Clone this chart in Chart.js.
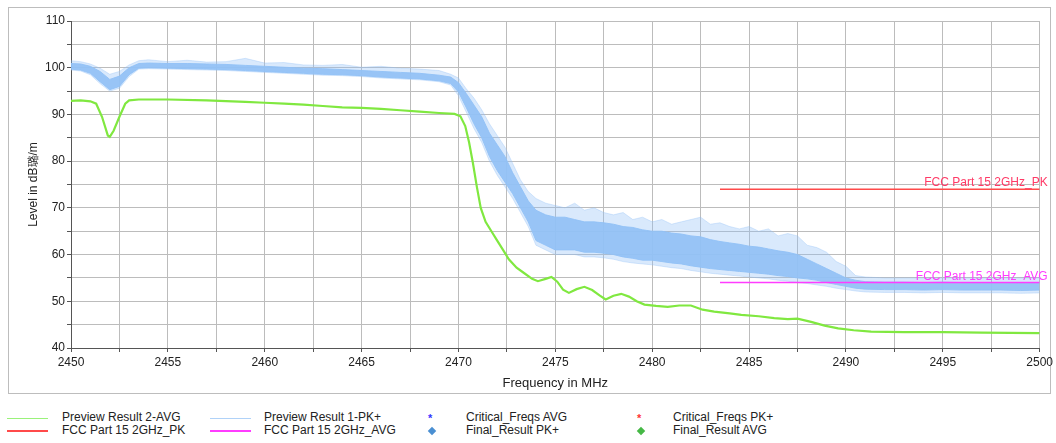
<!DOCTYPE html>
<html>
<head>
<meta charset="utf-8">
<script src="https://cdn.jsdelivr.net/npm/chart.js@4.4.1/dist/chart.umd.min.js"></script>
<style>
  body { margin: 0; background: #fff; width: 1056px; height: 443px; overflow: hidden; position: relative;
         font-family: 'Liberation Sans', Arial, sans-serif; }
  #frame { position: absolute; left: 8px; top: 7px; width: 1041px; height: 385px; border: 1px solid #bdbdbd; }
  #chart { position: absolute; left: 0; top: 0; }
  .lg { position: absolute; font-size: 12px; color: #222; line-height: 13px; white-space: nowrap; }
  .sym { position: absolute; }
</style>
</head>
<body>
<div id="frame"></div>
<canvas id="chart" width="1056" height="400"></canvas>
<div id="legend"></div>
<script>
// AVG trace (green)
const freqAvg = [2450, 2450.5, 2451, 2451.3, 2451.6, 2451.9, 2452.0, 2452.2, 2452.5, 2452.8,
    2453.0, 2453.5, 2455, 2457, 2459, 2460, 2461, 2462, 2463, 2464,
    2465, 2466, 2467, 2468, 2469, 2469.8, 2470.1, 2470.35, 2470.55, 2470.75,
    2470.95, 2471.15, 2471.4, 2471.7, 2472.0, 2472.3, 2472.6, 2473.0, 2473.4, 2473.8,
    2474.1, 2474.5, 2474.8, 2475.1, 2475.4, 2475.7, 2476.1, 2476.5, 2476.9, 2477.3,
    2477.6, 2478.0, 2478.4, 2478.8, 2479.2, 2479.6, 2480.2, 2480.8, 2481.4, 2482.0,
    2482.6, 2483.2, 2484.0, 2484.6, 2485.5, 2486.3, 2487.0, 2487.5, 2488.2, 2488.9,
    2489.6, 2490.4, 2491.3, 2493, 2495, 2497, 2500];
const levelAvg = [92.9, 93.0, 92.8, 92.3, 89.5, 85.5, 85.2, 86.5, 89.5, 92.3,
    93.0, 93.2, 93.2, 93.0, 92.7, 92.5, 92.3, 92.1, 91.8, 91.5,
    91.4, 91.2, 90.9, 90.6, 90.3, 90.1, 89.6, 87.5, 84.0, 79.5,
    74.5, 70.0, 67.0, 65.0, 63.0, 61.0, 59.0, 57.2, 56.0, 54.8,
    54.3, 54.8, 55.2, 54.2, 52.5, 51.8, 52.6, 53.1, 52.4, 51.2,
    50.4, 51.2, 51.6, 51.0, 50.0, 49.3, 49.0, 48.8, 49.1, 49.1,
    48.2, 47.8, 47.4, 47.1, 46.8, 46.4, 46.2, 46.3, 45.6, 44.8,
    44.2, 43.8, 43.5, 43.4, 43.4, 43.3, 43.2];

// PK+ trace (blue) read as a noise band: dense core and spike envelope
const freqPk = [2450, 2450.5, 2451, 2451.5, 2452, 2452.5, 2453, 2453.5, 2454, 2455,
    2456, 2457, 2458, 2459, 2460, 2461, 2462, 2463, 2464, 2465,
    2466, 2467, 2468, 2469, 2469.6, 2470, 2470.4, 2470.8, 2471.2, 2471.6,
    2472, 2472.4, 2472.8, 2473.2, 2473.6, 2474, 2474.5, 2475, 2475.5, 2476,
    2476.5, 2477, 2477.5, 2478, 2478.5, 2479, 2479.5, 2480, 2480.5, 2481,
    2481.5, 2482, 2482.5, 2483, 2483.5, 2484, 2484.5, 2485, 2485.5, 2486,
    2486.5, 2487, 2487.5, 2488, 2488.5, 2489, 2489.5, 2490, 2490.5, 2491,
    2492, 2493, 2494, 2495, 2496, 2497, 2498, 2499, 2500];
const pkCoreHi = [100.9, 100.8, 100.3, 99.2, 97.5, 98.2, 100.0, 100.9, 101.0, 100.9,
    100.9, 100.8, 100.7, 100.5, 100.3, 100.1, 99.9, 99.8, 99.6, 99.4,
    99.2, 99.0, 98.8, 98.4, 98.0, 96.8, 94.5, 92.0, 89.5, 86.0,
    83.5, 81.0, 77.5, 74.5, 71.5, 69.5, 68.5, 68.0, 68.0, 67.5,
    67.0, 67.0, 66.8, 66.5, 66.0, 65.8, 65.3, 65.0, 65.0, 64.6,
    64.4, 64.0, 63.8, 63.2, 62.8, 62.5, 62.2, 61.8, 61.6, 61.2,
    60.8, 60.5, 60.0, 59.0, 58.0, 57.0, 56.0, 55.0, 54.5, 54.2,
    54.1, 54.1, 54.0, 54.1, 54.0, 54.0, 54.0, 53.9, 54.0];
const pkCoreLo = [99.7, 99.5, 98.8, 97.0, 95.3, 96.0, 98.5, 99.9, 100.0, 99.9,
    99.8, 99.7, 99.6, 99.4, 99.2, 99.0, 98.8, 98.6, 98.5, 98.3,
    98.0, 97.8, 97.6, 97.2, 96.6, 94.8, 91.5, 88.0, 85.0, 81.0,
    78.0, 75.5, 73.0, 70.0, 67.0, 63.0, 62.0, 61.0, 61.0, 61.0,
    60.5, 60.5, 60.3, 60.0, 59.5, 59.2, 58.8, 58.8, 58.5, 58.2,
    58.0, 57.6, 57.3, 57.0, 56.8, 56.6, 56.4, 56.2, 56.0, 55.8,
    55.5, 55.3, 55.0, 54.8, 54.5, 54.0, 53.6, 53.2, 52.8, 52.6,
    52.5, 52.5, 52.4, 52.5, 52.4, 52.4, 52.4, 52.3, 52.4];
const pkSpikeHi = [101.5, 101.3, 100.8, 99.9, 98.6, 99.2, 100.6, 101.5, 101.7, 101.3,
    101.6, 101.2, 101.3, 102.0, 101.0, 101.1, 100.6, 100.5, 100.7, 100.1,
    100.3, 99.9, 99.7, 99.4, 98.6, 97.8, 95.5, 93.5, 91.0, 88.0,
    85.5, 83.0, 79.5, 76.0, 73.5, 72.0, 71.0, 70.5, 70.0, 71.0,
    69.5, 70.0, 69.0, 68.5, 69.0, 67.5, 68.0, 67.0, 67.5, 66.5,
    67.0, 67.5, 68.0, 66.5, 66.8, 66.0, 65.5, 66.0, 65.0, 65.5,
    64.0, 64.5, 64.0, 62.0, 61.5, 60.5, 58.5, 57.5, 55.5, 55.2,
    55.0, 55.0, 55.0, 55.0, 55.0, 55.0, 55.0, 55.0, 55.0];
const pkSpikeLo = [99.5, 99.3, 98.5, 96.6, 95.0, 95.6, 98.1, 99.7, 99.8, 99.7,
    99.6, 99.5, 99.4, 99.2, 99.0, 98.8, 98.6, 98.4, 98.3, 98.1,
    97.8, 97.6, 97.4, 97.0, 96.3, 94.0, 90.5, 87.0, 84.0, 80.0,
    77.0, 74.5, 72.0, 69.0, 66.0, 62.0, 61.0, 60.0, 60.0, 60.0,
    59.5, 59.5, 59.3, 59.0, 58.5, 58.2, 58.0, 57.8, 57.5, 57.2,
    57.0, 56.6, 56.3, 56.0, 55.8, 55.6, 55.4, 55.2, 55.0, 54.8,
    54.5, 54.3, 54.0, 53.8, 53.5, 53.2, 52.8, 52.5, 52.2, 52.0,
    51.9, 51.9, 51.8, 51.9, 51.8, 51.8, 51.8, 51.7, 51.8];

// limit lines
const limitFreq = [2483.5, 2500];
const limitPk = [74, 74];
const limitAvg = [54, 54];

// grid positions and axis labels
const xGrid = [2450, 2452.5, 2455, 2457.5, 2460, 2462.5, 2465, 2467.5, 2470, 2472.5,
    2475, 2477.5, 2480, 2482.5, 2485, 2487.5, 2490, 2492.5, 2495, 2497.5, 2500];
const yGrid = [40, 45, 50, 55, 60, 65, 70, 75, 80, 85, 90, 95, 100, 105, 110];
const xLabels = [2450, 2455, 2460, 2465, 2470, 2475, 2480, 2485, 2490, 2495, 2500];
const yLabels = [40, 50, 60, 70, 80, 90, 100, 110];

const legendNames = ['Preview Result 2-AVG', 'FCC Part 15 2GHz_PK', 'Preview Result 1-PK+', 'FCC Part 15 2GHz_AVG',
    'Critical_Freqs AVG', 'Final_Result PK+', 'Critical_Freqs PK+', 'Final_Result AVG'];

const FONT = "'Liberation Sans', Arial, sans-serif";
const GREEN = '#80e840';
const BLUE_CORE = 'rgba(145, 193, 246, 0.9)';
const BLUE_SPIKE = 'rgba(145, 193, 246, 0.35)';
const RED = '#ff4a4a';
const MAGENTA = '#ff3cff';

function pts(xs, ys) {
    return xs.map((x, i) => ({ x: x, y: ys[i] }));
}

const limitLabels = {
    id: 'limitLabels',
    afterDatasetsDraw(chart) {
        const ctx = chart.ctx;
        const x = chart.chartArea.right + 8;
        const ys = chart.scales.y;
        ctx.save();
        ctx.font = '12px ' + FONT;
        ctx.textAlign = 'right';
        ctx.textBaseline = 'alphabetic';
        ctx.fillStyle = '#ff3a66';
        ctx.fillText('FCC Part 15 2GHz_PK', x, ys.getPixelForValue(limitPk[0]) - 3);
        ctx.fillStyle = MAGENTA;
        ctx.fillText('FCC Part 15 2GHz_AVG', x, ys.getPixelForValue(limitAvg[0]) - 3);
        ctx.restore();
    }
};

new Chart(document.getElementById('chart'), {
    type: 'line',
    data: {
        datasets: [
            { data: pts(freqPk, pkSpikeHi), borderColor: BLUE_SPIKE, borderWidth: 1,
              backgroundColor: BLUE_SPIKE, fill: '+1', order: 4 },
            { data: pts(freqPk, pkSpikeLo), borderColor: BLUE_SPIKE, borderWidth: 1, fill: false, order: 4 },
            { data: pts(freqPk, pkCoreHi), borderColor: BLUE_CORE, borderWidth: 1,
              backgroundColor: BLUE_CORE, fill: '+1', order: 3 },
            { data: pts(freqPk, pkCoreLo), borderColor: BLUE_CORE, borderWidth: 1, fill: false, order: 3 },
            { data: pts(freqAvg, levelAvg), borderColor: GREEN, borderWidth: 2.2, fill: false, order: 2 },
            { data: pts(limitFreq, limitPk), borderColor: RED, borderWidth: 1.5, fill: false, order: 1 },
            { data: pts(limitFreq, limitAvg), borderColor: MAGENTA, borderWidth: 1.5, fill: false, order: 1 }
        ]
    },
    options: {
        responsive: false,
        animation: false,
        elements: { point: { radius: 0 }, line: { tension: 0 } },
        layout: { padding: { left: 0, top: 21, right: 14, bottom: 0 } },
        scales: {
            x: {
                type: 'linear',
                min: 2450,
                max: 2500,
                afterFit(scale) { scale.height = 52; },
                afterBuildTicks(scale) { scale.ticks = xGrid.map(v => ({ value: v })); },
                ticks: {
                    autoSkip: false,
                    maxRotation: 0,
                    padding: 3,
                    color: '#222',
                    font: { family: FONT, size: 12 },
                    callback: (v) => xLabels.includes(v) ? v : ''
                },
                grid: { color: '#bcbcbc', tickColor: '#555', tickLength: 4 },
                border: { color: '#555' },
                title: { display: true, text: 'Frequency in MHz', color: '#222',
                         font: { family: FONT, size: 13 }, padding: { top: 0, bottom: 9 } }
            },
            y: {
                min: 40,
                max: 110,
                afterFit(scale) { scale.width = 71; },
                afterBuildTicks(scale) { scale.ticks = yGrid.map(v => ({ value: v })); },
                ticks: {
                    autoSkip: false,
                    padding: 2,
                    color: '#222',
                    font: { family: FONT, size: 12 },
                    callback: (v) => yLabels.includes(v) ? v : ''
                },
                grid: { color: '#bcbcbc', tickColor: '#555', tickLength: 4 },
                border: { color: '#555' },
                title: { display: true, text: 'Level in dB\u7490/m', color: '#222',
                         font: { family: FONT, size: 12 }, padding: { top: 26, bottom: 0 } }
            }
        },
        plugins: {
            legend: { display: false },
            tooltip: { enabled: false }
        }
    },
    plugins: [limitLabels]
});

// legend below the frame, filled column by column
const legendSyms = [
    { kind: 'line', color: '#9af27a', w: 1 },
    { kind: 'line', color: RED, w: 2 },
    { kind: 'line', color: '#b0d2f8', w: 1 },
    { kind: 'line', color: MAGENTA, w: 2 },
    { kind: 'star', color: '#3535ff' },
    { kind: 'diamond', color: '#4a8fd2' },
    { kind: 'star', color: '#ff3535' },
    { kind: 'diamond', color: '#45b845' }
];
const colSym = [7, 210, 432, 641];
const colText = [62, 264, 466, 673];
const rowY = [418, 431];
const legend = document.getElementById('legend');
legendNames.forEach((name, i) => {
    const col = Math.floor(i / 2), row = i % 2;
    const s = legendSyms[i];
    const sym = document.createElement('div');
    sym.className = 'sym';
    if (s.kind === 'line') {
        sym.style.left = colSym[col] + 'px';
        sym.style.top = (rowY[row] - s.w / 2) + 'px';
        sym.style.width = '41px';
        sym.style.height = s.w + 'px';
        sym.style.background = s.color;
    } else if (s.kind === 'diamond') {
        sym.style.left = (colSym[col] - 3) + 'px';
        sym.style.top = (rowY[row] - 3) + 'px';
        sym.style.width = '6px';
        sym.style.height = '6px';
        sym.style.background = s.color;
        sym.style.transform = 'rotate(45deg)';
    } else {
        sym.style.left = (colSym[col] - 4) + 'px';
        sym.style.top = (rowY[row] - 5) + 'px';
        sym.style.font = 'bold 11px ' + FONT;
        sym.style.lineHeight = '11px';
        sym.style.color = s.color;
        sym.textContent = '*';
    }
    legend.appendChild(sym);
    const t = document.createElement('div');
    t.className = 'lg';
    t.style.left = colText[col] + 'px';
    t.style.top = (rowY[row] - 7) + 'px';
    t.textContent = name;
    legend.appendChild(t);
});
</script>
</body>
</html>
